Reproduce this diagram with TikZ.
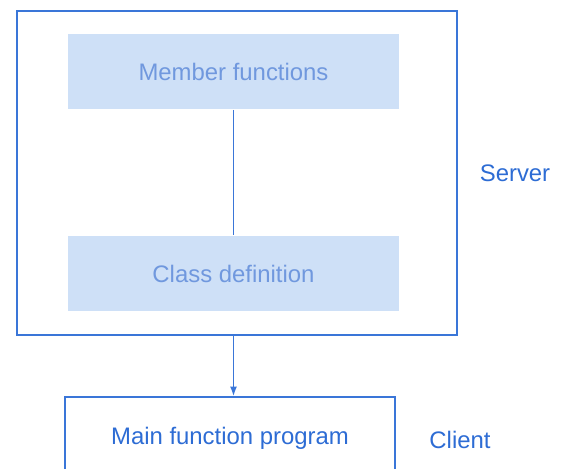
\documentclass[tikz,border=0pt]{standalone}
\usepackage{fontspec}
\setmainfont{Liberation Sans}
\usetikzlibrary{arrows.meta}
\definecolor{LineClr}{RGB}{58,118,216}
\definecolor{BoxClr}{RGB}{206,224,247}
\definecolor{PaleTxtClr}{RGB}{112,152,222}
\definecolor{TxtClr}{RGB}{45,108,212}

\begin{document}
\begin{tikzpicture}[x=0.02cm,y=-0.02cm,
  every node/.style={font=\fontsize{13.6}{16}\selectfont},
  frame/.style={draw=LineClr,line width=0.9pt,minimum width=8.8cm,minimum height=6.48cm},
  shade box/.style={fill=BoxClr,text=PaleTxtClr,minimum width=6.64cm,minimum height=1.52cm},
  plain box/.style={draw=LineClr,line width=0.9pt,text=TxtClr,minimum width=6.6cm,minimum height=1.66cm},
  side label/.style={text=TxtClr}]
\useasboundingbox (0,0) rectangle (567,469);
\clip (0,0) rectangle (567,469);

\node[frame] (server) at (237,173) {};

\node[shade box] (member) at (233.5,71.5) {Member functions};
\node[shade box] (class) at (233.5,273.5) {Class definition};

\node[plain box] (main) at (230,438.5) {Main function program};

\node[side label] (srvlbl) at (515,173) {Server};
\node[side label] (cltlbl) at (460,440) {Client};

% connectors
\draw[LineClr,line width=0.8pt] (member.south) -- (class.north);
\draw[LineClr,line width=0.9pt,-{Latex[length=5.5pt,width=4pt]}]
  (member.south |- server.south) -- (member.south |- main.north);

\end{tikzpicture}
\end{document}
